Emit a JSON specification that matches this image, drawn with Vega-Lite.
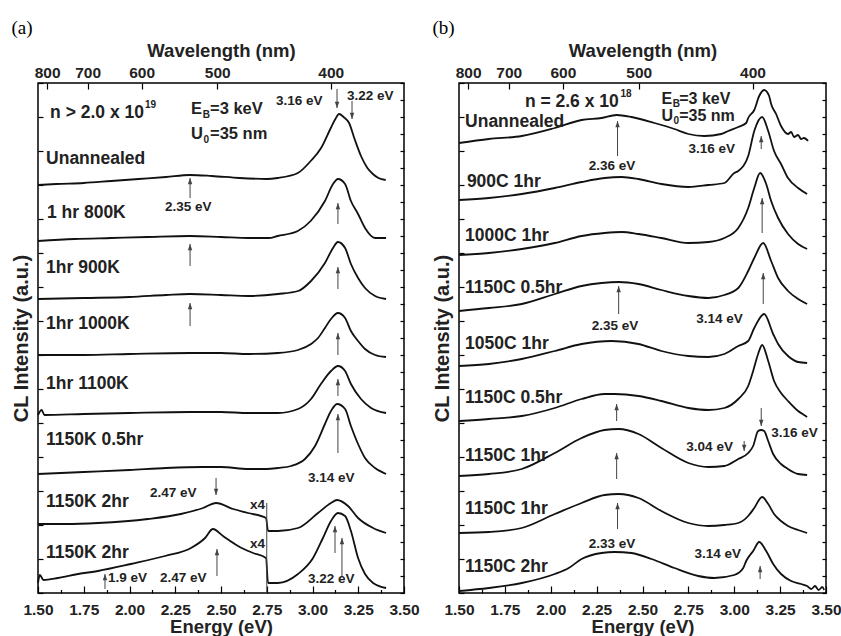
{
"$schema": "https://vega.github.io/schema/vega-lite/v6.json",
"padding": {"left": 10, "top": 18, "right": 0, "bottom": 0},
"spacing": 11,
"config": {
  "view": {"stroke": "#000", "strokeWidth": 1.5},
  "font": "Liberation Sans",
  "axis": {"domain": false, "grid": false, "tickColor": "#000", "tickWidth": 1.2, "labelFont": "Liberation Sans", "labelFontWeight": "bold", "labelFontSize": 15.5, "labelColor": "#222", "labelFlush": false, "titleFont": "Liberation Sans", "titleFontWeight": "bold", "titleFontSize": 18.5, "titleColor": "#222"},
  "title": {"font": "Liberation Serif", "fontWeight": "normal", "fontSize": 19, "anchor": "start", "color": "#000"}
},
"datasets": {
"curvesA": [
{"c":"a1","x":1.5,"y":408},{"c":"a1","x":1.6,"y":409},{"c":"a1","x":1.75,"y":410},{"c":"a1","x":1.9,"y":412},{"c":"a1","x":2.05,"y":414},{"c":"a1","x":2.2,"y":416},{"c":"a1","x":2.33,"y":418},{"c":"a1","x":2.45,"y":417},{"c":"a1","x":2.6,"y":415},{"c":"a1","x":2.75,"y":414},{"c":"a1","x":2.81,"y":415},{"c":"a1","x":2.92,"y":420},{"c":"a1","x":2.99,"y":432},{"c":"a1","x":3.047,"y":445},{"c":"a1","x":3.1,"y":465},{"c":"a1","x":3.125,"y":474},{"c":"a1","x":3.145,"y":479},{"c":"a1","x":3.17,"y":476},{"c":"a1","x":3.2,"y":470},{"c":"a1","x":3.23,"y":454},{"c":"a1","x":3.265,"y":437},{"c":"a1","x":3.3,"y":425},{"c":"a1","x":3.33,"y":419},{"c":"a1","x":3.36,"y":415},{"c":"a1","x":3.4,"y":413},
{"c":"a2","x":1.5,"y":352},{"c":"a2","x":1.7,"y":354},{"c":"a2","x":1.9,"y":355},{"c":"a2","x":2.1,"y":356},{"c":"a2","x":2.33,"y":357},{"c":"a2","x":2.5,"y":356},{"c":"a2","x":2.65,"y":355},{"c":"a2","x":2.76,"y":355},{"c":"a2","x":2.81,"y":357},{"c":"a2","x":2.92,"y":362},{"c":"a2","x":2.99,"y":372},{"c":"a2","x":3.068,"y":392},{"c":"a2","x":3.112,"y":409},{"c":"a2","x":3.139,"y":414},{"c":"a2","x":3.178,"y":409},{"c":"a2","x":3.21,"y":392},{"c":"a2","x":3.249,"y":379},{"c":"a2","x":3.287,"y":365},{"c":"a2","x":3.342,"y":355},{"c":"a2","x":3.402,"y":355},
{"c":"a3","x":1.5,"y":294},{"c":"a3","x":1.75,"y":295},{"c":"a3","x":2.0,"y":296},{"c":"a3","x":2.2,"y":298},{"c":"a3","x":2.33,"y":299},{"c":"a3","x":2.5,"y":298},{"c":"a3","x":2.65,"y":297},{"c":"a3","x":2.811,"y":299},{"c":"a3","x":2.921,"y":302},{"c":"a3","x":2.992,"y":312},{"c":"a3","x":3.068,"y":330},{"c":"a3","x":3.112,"y":345},{"c":"a3","x":3.139,"y":351},{"c":"a3","x":3.178,"y":345},{"c":"a3","x":3.21,"y":329},{"c":"a3","x":3.249,"y":315},{"c":"a3","x":3.287,"y":305},{"c":"a3","x":3.342,"y":297},{"c":"a3","x":3.402,"y":294},
{"c":"a4","x":1.5,"y":238},{"c":"a4","x":1.75,"y":238},{"c":"a4","x":2.0,"y":239},{"c":"a4","x":2.33,"y":240},{"c":"a4","x":2.5,"y":240},{"c":"a4","x":2.65,"y":239},{"c":"a4","x":2.811,"y":240},{"c":"a4","x":2.921,"y":243},{"c":"a4","x":2.992,"y":249},{"c":"a4","x":3.03,"y":255},{"c":"a4","x":3.068,"y":265},{"c":"a4","x":3.101,"y":274},{"c":"a4","x":3.139,"y":280},{"c":"a4","x":3.178,"y":275},{"c":"a4","x":3.21,"y":262},{"c":"a4","x":3.249,"y":252},{"c":"a4","x":3.287,"y":244},{"c":"a4","x":3.342,"y":238},{"c":"a4","x":3.402,"y":236},
{"c":"a5","x":1.5,"y":178},{"c":"a5","x":1.52,"y":183},{"c":"a5","x":1.535,"y":178},{"c":"a5","x":1.75,"y":179},{"c":"a5","x":2.0,"y":180},{"c":"a5","x":2.33,"y":181},{"c":"a5","x":2.5,"y":181},{"c":"a5","x":2.65,"y":180},{"c":"a5","x":2.811,"y":180},{"c":"a5","x":2.921,"y":184},{"c":"a5","x":2.992,"y":194},{"c":"a5","x":3.046,"y":209},{"c":"a5","x":3.101,"y":222},{"c":"a5","x":3.139,"y":227},{"c":"a5","x":3.178,"y":222},{"c":"a5","x":3.21,"y":209},{"c":"a5","x":3.265,"y":194},{"c":"a5","x":3.32,"y":185},{"c":"a5","x":3.402,"y":180},
{"c":"a6","x":1.5,"y":119},{"c":"a6","x":1.75,"y":121},{"c":"a6","x":2.0,"y":123},{"c":"a6","x":2.2,"y":125},{"c":"a6","x":2.4,"y":126},{"c":"a6","x":2.5,"y":126},{"c":"a6","x":2.65,"y":124},{"c":"a6","x":2.75,"y":124},{"c":"a6","x":2.811,"y":125},{"c":"a6","x":2.883,"y":127},{"c":"a6","x":2.959,"y":134},{"c":"a6","x":3.014,"y":147},{"c":"a6","x":3.068,"y":169},{"c":"a6","x":3.101,"y":182},{"c":"a6","x":3.134,"y":189},{"c":"a6","x":3.178,"y":184},{"c":"a6","x":3.21,"y":167},{"c":"a6","x":3.249,"y":149},{"c":"a6","x":3.287,"y":135},{"c":"a6","x":3.342,"y":125},{"c":"a6","x":3.402,"y":119},
{"c":"a7","x":1.5,"y":69},{"c":"a7","x":1.65,"y":69},{"c":"a7","x":1.828,"y":70},{"c":"a7","x":2.101,"y":74},{"c":"a7","x":2.281,"y":79},{"c":"a7","x":2.402,"y":85},{"c":"a7","x":2.473,"y":90},{"c":"a7","x":2.566,"y":84},{"c":"a7","x":2.648,"y":80},{"c":"a7","x":2.746,"y":75},{"c":"a7","x":2.757,"y":62},{"c":"a7","x":2.811,"y":62},{"c":"a7","x":2.921,"y":65},{"c":"a7","x":3.03,"y":80},{"c":"a7","x":3.101,"y":90},{"c":"a7","x":3.134,"y":93},{"c":"a7","x":3.194,"y":87},{"c":"a7","x":3.249,"y":75},{"c":"a7","x":3.331,"y":65},{"c":"a7","x":3.402,"y":60},
{"c":"a8","x":1.5,"y":10},{"c":"a8","x":1.51,"y":18},{"c":"a8","x":1.53,"y":13},{"c":"a8","x":1.609,"y":15},{"c":"a8","x":1.719,"y":19},{"c":"a8","x":1.828,"y":22},{"c":"a8","x":2.008,"y":29},{"c":"a8","x":2.194,"y":37},{"c":"a8","x":2.336,"y":45},{"c":"a8","x":2.413,"y":55},{"c":"a8","x":2.456,"y":64},{"c":"a8","x":2.511,"y":57},{"c":"a8","x":2.593,"y":47},{"c":"a8","x":2.675,"y":40},{"c":"a8","x":2.746,"y":35},{"c":"a8","x":2.757,"y":10},{"c":"a8","x":2.811,"y":10},{"c":"a8","x":2.921,"y":19},{"c":"a8","x":3.003,"y":35},{"c":"a8","x":3.057,"y":55},{"c":"a8","x":3.101,"y":72},{"c":"a8","x":3.139,"y":80},{"c":"a8","x":3.178,"y":77},{"c":"a8","x":3.21,"y":62},{"c":"a8","x":3.249,"y":35},{"c":"a8","x":3.287,"y":19},{"c":"a8","x":3.331,"y":10},{"c":"a8","x":3.402,"y":5}
],
"curvesB": [
{"c":"b1","x":1.5,"y":450},{"c":"b1","x":1.663,"y":454},{"c":"b1","x":1.842,"y":457},{"c":"b1","x":2.022,"y":465},{"c":"b1","x":2.168,"y":473},{"c":"b1","x":2.277,"y":475},{"c":"b1","x":2.359,"y":478},{"c":"b1","x":2.44,"y":476},{"c":"b1","x":2.565,"y":470},{"c":"b1","x":2.674,"y":464},{"c":"b1","x":2.75,"y":459},{"c":"b1","x":2.837,"y":457},{"c":"b1","x":2.929,"y":459},{"c":"b1","x":2.967,"y":462},{"c":"b1","x":3.022,"y":466},{"c":"b1","x":3.065,"y":470},{"c":"b1","x":3.076,"y":475},{"c":"b1","x":3.109,"y":483},{"c":"b1","x":3.136,"y":497},{"c":"b1","x":3.163,"y":503},{"c":"b1","x":3.19,"y":497},{"c":"b1","x":3.201,"y":489},{"c":"b1","x":3.228,"y":479},{"c":"b1","x":3.255,"y":467},{"c":"b1","x":3.293,"y":459},{"c":"b1","x":3.31,"y":461},{"c":"b1","x":3.326,"y":456},{"c":"b1","x":3.348,"y":458},{"c":"b1","x":3.364,"y":454},{"c":"b1","x":3.38,"y":455},{"c":"b1","x":3.402,"y":452},
{"c":"b2","x":1.5,"y":393},{"c":"b2","x":1.663,"y":395},{"c":"b2","x":1.842,"y":399},{"c":"b2","x":2.022,"y":405},{"c":"b2","x":2.168,"y":411},{"c":"b2","x":2.293,"y":415},{"c":"b2","x":2.386,"y":416},{"c":"b2","x":2.478,"y":414},{"c":"b2","x":2.603,"y":409},{"c":"b2","x":2.75,"y":406},{"c":"b2","x":2.859,"y":408},{"c":"b2","x":2.946,"y":410},{"c":"b2","x":3.0,"y":420},{"c":"b2","x":3.022,"y":422},{"c":"b2","x":3.076,"y":437},{"c":"b2","x":3.109,"y":462},{"c":"b2","x":3.152,"y":476},{"c":"b2","x":3.185,"y":462},{"c":"b2","x":3.217,"y":442},{"c":"b2","x":3.255,"y":429},{"c":"b2","x":3.293,"y":415},{"c":"b2","x":3.348,"y":405},{"c":"b2","x":3.397,"y":399},
{"c":"b3","x":1.5,"y":338},{"c":"b3","x":1.663,"y":340},{"c":"b3","x":1.842,"y":344},{"c":"b3","x":2.022,"y":350},{"c":"b3","x":2.168,"y":357},{"c":"b3","x":2.293,"y":360},{"c":"b3","x":2.386,"y":361},{"c":"b3","x":2.478,"y":359},{"c":"b3","x":2.603,"y":355},{"c":"b3","x":2.75,"y":350},{"c":"b3","x":2.859,"y":351},{"c":"b3","x":2.946,"y":355},{"c":"b3","x":3.022,"y":365},{"c":"b3","x":3.076,"y":385},{"c":"b3","x":3.109,"y":405},{"c":"b3","x":3.141,"y":420},{"c":"b3","x":3.174,"y":409},{"c":"b3","x":3.201,"y":392},{"c":"b3","x":3.239,"y":375},{"c":"b3","x":3.293,"y":359},{"c":"b3","x":3.348,"y":349},{"c":"b3","x":3.397,"y":344},
{"c":"b4","x":1.5,"y":282},{"c":"b4","x":1.663,"y":285},{"c":"b4","x":1.842,"y":289},{"c":"b4","x":2.022,"y":299},{"c":"b4","x":2.168,"y":307},{"c":"b4","x":2.277,"y":310},{"c":"b4","x":2.37,"y":311},{"c":"b4","x":2.478,"y":309},{"c":"b4","x":2.603,"y":303},{"c":"b4","x":2.75,"y":297},{"c":"b4","x":2.859,"y":295},{"c":"b4","x":2.946,"y":298},{"c":"b4","x":3.022,"y":305},{"c":"b4","x":3.076,"y":322},{"c":"b4","x":3.109,"y":335},{"c":"b4","x":3.158,"y":350},{"c":"b4","x":3.201,"y":332},{"c":"b4","x":3.239,"y":315},{"c":"b4","x":3.293,"y":302},{"c":"b4","x":3.348,"y":294},{"c":"b4","x":3.397,"y":289},
{"c":"b5","x":1.5,"y":227},{"c":"b5","x":1.663,"y":229},{"c":"b5","x":1.842,"y":234},{"c":"b5","x":2.022,"y":242},{"c":"b5","x":2.168,"y":249},{"c":"b5","x":2.332,"y":252},{"c":"b5","x":2.478,"y":249},{"c":"b5","x":2.603,"y":242},{"c":"b5","x":2.75,"y":237},{"c":"b5","x":2.859,"y":236},{"c":"b5","x":2.946,"y":239},{"c":"b5","x":3.022,"y":247},{"c":"b5","x":3.076,"y":252},{"c":"b5","x":3.109,"y":265},{"c":"b5","x":3.163,"y":279},{"c":"b5","x":3.212,"y":259},{"c":"b5","x":3.239,"y":249},{"c":"b5","x":3.293,"y":237},{"c":"b5","x":3.348,"y":231},{"c":"b5","x":3.397,"y":230},
{"c":"b6","x":1.5,"y":172},{"c":"b6","x":1.663,"y":174},{"c":"b6","x":1.842,"y":177},{"c":"b6","x":2.022,"y":185},{"c":"b6","x":2.168,"y":194},{"c":"b6","x":2.293,"y":199},{"c":"b6","x":2.348,"y":199},{"c":"b6","x":2.478,"y":197},{"c":"b6","x":2.603,"y":192},{"c":"b6","x":2.75,"y":185},{"c":"b6","x":2.859,"y":183},{"c":"b6","x":2.946,"y":185},{"c":"b6","x":3.022,"y":194},{"c":"b6","x":3.076,"y":207},{"c":"b6","x":3.103,"y":222},{"c":"b6","x":3.13,"y":239},{"c":"b6","x":3.152,"y":248},{"c":"b6","x":3.185,"y":232},{"c":"b6","x":3.217,"y":212},{"c":"b6","x":3.255,"y":200},{"c":"b6","x":3.293,"y":192},{"c":"b6","x":3.348,"y":182},{"c":"b6","x":3.38,"y":178},{"c":"b6","x":3.397,"y":176},
{"c":"b7","x":1.5,"y":117},{"c":"b7","x":1.663,"y":119},{"c":"b7","x":1.842,"y":124},{"c":"b7","x":2.022,"y":140},{"c":"b7","x":2.168,"y":155},{"c":"b7","x":2.293,"y":163},{"c":"b7","x":2.37,"y":164},{"c":"b7","x":2.478,"y":159},{"c":"b7","x":2.603,"y":145},{"c":"b7","x":2.75,"y":130},{"c":"b7","x":2.859,"y":126},{"c":"b7","x":2.946,"y":127},{"c":"b7","x":3.022,"y":134},{"c":"b7","x":3.076,"y":140},{"c":"b7","x":3.103,"y":147},{"c":"b7","x":3.13,"y":162},{"c":"b7","x":3.147,"y":163},{"c":"b7","x":3.163,"y":162},{"c":"b7","x":3.185,"y":152},{"c":"b7","x":3.212,"y":139},{"c":"b7","x":3.255,"y":129},{"c":"b7","x":3.293,"y":124},{"c":"b7","x":3.348,"y":119},{"c":"b7","x":3.397,"y":118},
{"c":"b8","x":1.5,"y":60},{"c":"b8","x":1.663,"y":61},{"c":"b8","x":1.842,"y":65},{"c":"b8","x":2.022,"y":79},{"c":"b8","x":2.168,"y":90},{"c":"b8","x":2.293,"y":98},{"c":"b8","x":2.37,"y":99},{"c":"b8","x":2.478,"y":95},{"c":"b8","x":2.603,"y":82},{"c":"b8","x":2.75,"y":70},{"c":"b8","x":2.859,"y":67},{"c":"b8","x":2.946,"y":68},{"c":"b8","x":3.022,"y":70},{"c":"b8","x":3.076,"y":77},{"c":"b8","x":3.109,"y":85},{"c":"b8","x":3.152,"y":96},{"c":"b8","x":3.185,"y":89},{"c":"b8","x":3.217,"y":79},{"c":"b8","x":3.255,"y":72},{"c":"b8","x":3.293,"y":67},{"c":"b8","x":3.348,"y":63},{"c":"b8","x":3.397,"y":60},
{"c":"b9","x":1.5,"y":2},{"c":"b9","x":1.663,"y":5},{"c":"b9","x":1.842,"y":10},{"c":"b9","x":2.022,"y":19},{"c":"b9","x":2.098,"y":25},{"c":"b9","x":2.168,"y":34},{"c":"b9","x":2.277,"y":40},{"c":"b9","x":2.348,"y":41},{"c":"b9","x":2.44,"y":40},{"c":"b9","x":2.549,"y":34},{"c":"b9","x":2.674,"y":25},{"c":"b9","x":2.804,"y":17},{"c":"b9","x":2.891,"y":15},{"c":"b9","x":3.0,"y":18},{"c":"b9","x":3.049,"y":25},{"c":"b9","x":3.065,"y":32},{"c":"b9","x":3.103,"y":42},{"c":"b9","x":3.136,"y":51},{"c":"b9","x":3.174,"y":42},{"c":"b9","x":3.212,"y":29},{"c":"b9","x":3.255,"y":19},{"c":"b9","x":3.31,"y":12},{"c":"b9","x":3.364,"y":9},{"c":"b9","x":3.397,"y":7},{"c":"b9","x":3.42,"y":4},{"c":"b9","x":3.44,"y":7},{"c":"b9","x":3.46,"y":3},{"c":"b9","x":3.48,"y":6},{"c":"b9","x":3.49,"y":3}
],
"arrowsA": [
{"x":3.134,"y":504,"y2":485,"dir":"down"},{"x":3.216,"y":492,"y2":474,"dir":"down"},{"x":2.331,"y":395,"y2":415,"dir":"up"},{"x":3.139,"y":369,"y2":390,"dir":"up"},{"x":2.331,"y":327,"y2":349,"dir":"up"},{"x":3.139,"y":304,"y2":326,"dir":"up"},{"x":2.331,"y":267,"y2":290,"dir":"up"},{"x":3.139,"y":238,"y2":260,"dir":"up"},{"x":3.139,"y":197,"y2":214,"dir":"up"},{"x":3.139,"y":140,"y2":179,"dir":"up"},{"x":2.473,"y":115,"y2":98,"dir":"down"},{"x":1.866,"y":4,"y2":19,"dir":"up"},{"x":2.478,"y":17,"y2":44,"dir":"up"},{"x":3.123,"y":40,"y2":67,"dir":"up"},{"x":3.161,"y":17,"y2":55,"dir":"up"},{"x":2.75,"y":0,"y2":90,"dir":"none"}
],
"arrowsB": [
{"x":2.364,"y":437,"y2":472,"dir":"up"},{"x":3.147,"y":444,"y2":457,"dir":"up"},{"x":3.152,"y":360,"y2":395,"dir":"up"},{"x":3.158,"y":289,"y2":320,"dir":"up"},{"x":2.37,"y":279,"y2":307,"dir":"up"},{"x":2.359,"y":172,"y2":189,"dir":"up"},{"x":2.359,"y":114,"y2":140,"dir":"up"},{"x":3.054,"y":152,"y2":142,"dir":"down"},{"x":3.147,"y":185,"y2":167,"dir":"down"},{"x":2.364,"y":64,"y2":90,"dir":"up"},{"x":3.141,"y":14,"y2":27,"dir":"up"}
],
"textsA": [
{"x":1.544,"y":434,"t":"Unannealed","role":"label"},{"x":1.549,"y":380,"t":"1 hr 800K","role":"label"},{"x":1.544,"y":325,"t":"1hr 900K","role":"label"},{"x":1.544,"y":269,"t":"1hr 1000K","role":"label"},{"x":1.544,"y":209,"t":"1hr 1100K","role":"label"},{"x":1.544,"y":153,"t":"1150K 0.5hr","role":"label"},{"x":1.544,"y":91,"t":"1150K 2hr","role":"label"},{"x":1.544,"y":40,"t":"1150K 2hr","role":"label"},
{"x":1.566,"y":480,"t":"n > 2.0 x 10","role":"label"},{"x":2.336,"y":484,"t":"E","role":"param"},{"x":2.44,"y":484,"t":"=3 keV","role":"param"},{"x":2.336,"y":459,"t":"U","role":"param"},{"x":2.44,"y":459,"t":"=35 nm","role":"param"},
{"x":2.085,"y":488,"t":"19","role":"script"},{"x":2.4,"y":478,"t":"B","role":"script"},{"x":2.405,"y":453,"t":"0","role":"script"},
{"x":2.801,"y":492,"t":"3.16 eV","role":"note"},{"x":3.189,"y":497,"t":"3.22 eV","role":"note"},{"x":2.194,"y":386,"t":"2.35 eV","role":"note"},{"x":2.975,"y":115,"t":"3.14 eV","role":"note"},{"x":2.112,"y":100,"t":"2.47 eV","role":"note"},{"x":2.658,"y":88,"t":"x4","role":"note"},{"x":2.658,"y":49,"t":"x4","role":"note"},{"x":1.883,"y":15,"t":"1.9 eV","role":"note"},{"x":2.167,"y":15,"t":"2.47 eV","role":"note"},{"x":2.975,"y":14,"t":"3.22 eV","role":"note"}
],
"textsB": [
{"x":1.533,"y":471,"t":"Unannealed","role":"label"},{"x":1.543,"y":411,"t":"900C 1hr","role":"label"},{"x":1.533,"y":357,"t":"1000C 1hr","role":"label"},{"x":1.533,"y":305,"t":"1150C 0.5hr","role":"label"},{"x":1.533,"y":249,"t":"1050C 1hr","role":"label"},{"x":1.533,"y":195,"t":"1150C 0.5hr","role":"label"},{"x":1.533,"y":137,"t":"1150C 1hr","role":"label"},{"x":1.533,"y":84,"t":"1150C 1hr","role":"label"},{"x":1.533,"y":26,"t":"1150C 2hr","role":"label"},
{"x":1.859,"y":491,"t":"n = 2.6 x 10","role":"label"},{"x":2.603,"y":494,"t":"E","role":"param"},{"x":2.7,"y":494,"t":"=3 keV","role":"param"},{"x":2.603,"y":477,"t":"U","role":"param"},{"x":2.7,"y":477,"t":"=35 nm","role":"param"},
{"x":2.38,"y":499,"t":"18","role":"script"},{"x":2.665,"y":489,"t":"B","role":"script"},{"x":2.669,"y":472,"t":"0","role":"script"},
{"x":2.207,"y":427,"t":"2.36 eV","role":"note"},{"x":2.75,"y":444,"t":"3.16 eV","role":"note"},{"x":2.223,"y":267,"t":"2.35 eV","role":"note"},{"x":2.793,"y":274,"t":"3.14 eV","role":"note"},{"x":2.739,"y":146,"t":"3.04 eV","role":"note"},{"x":3.201,"y":160,"t":"3.16 eV","role":"note"},{"x":2.207,"y":49,"t":"2.33 eV","role":"note"},{"x":2.783,"y":39,"t":"3.14 eV","role":"note"}
]
},
"hconcat": [
{
 "title": {"text": "(a)", "offset": 3},
 "width": 366, "height": 510,
 "resolve": {"axis": {"x": "independent", "y": "independent"}},
 "layer": [
  {"data": {"name": "curvesA"}, "mark": {"type": "line", "color": "#111", "strokeWidth": 1.8, "interpolate": "monotone"},
   "encoding": {
    "x": {"field": "x", "type": "quantitative", "scale": {"domain": [1.5, 3.5], "nice": false, "zero": false}, "axis": {"orient": "bottom", "values": [1.5,1.75,2,2.25,2.5,2.75,3,3.25,3.5], "format": ".2f", "tickSize": -7, "labelPadding": 16, "title": "Energy (eV)", "titlePadding": 0}},
    "y": {"field": "y", "type": "quantitative", "scale": {"domain": [0, 510], "nice": false, "zero": false}, "axis": {"orient": "left", "values": [0,34,68,102,136,170,204,238,272,306,340,374,408,442,476,510], "tickSize": -5, "labels": false, "title": "CL Intensity (a.u.)", "titleFontSize": 20, "titlePadding": 6}},
    "detail": {"field": "c"}
   }},
  {"data": {"name": "arrowsA"}, "mark": {"type": "rule", "color": "#444", "strokeWidth": 1},
   "encoding": {
    "x": {"field": "x", "type": "quantitative", "scale": {"domain": [1.5, 3.5], "nice": false, "zero": false}, "axis": {"orient": "bottom", "values": [1.625,1.875,2.125,2.375,2.625,2.875,3.125,3.375], "tickSize": -3.5, "labels": false, "title": null}},
    "y": {"field": "y", "type": "quantitative", "scale": {"domain": [0, 510], "nice": false, "zero": false}, "axis": null},
    "y2": {"field": "y2"}
   }},
  {"data": {"name": "arrowsA"}, "transform": [{"filter": "datum.dir !== 'none'"}], "mark": {"type": "point", "filled": true, "color": "#444", "opacity": 1, "size": 40, "strokeWidth": 0},
   "encoding": {
    "x": {"field": "x", "type": "quantitative", "scale": {"domain": [1.5, 3.5], "nice": false, "zero": false}, "axis": null},
    "y": {"field": "y2", "type": "quantitative", "scale": {"domain": [0, 510], "nice": false, "zero": false}, "axis": null},
    "shape": {"field": "dir", "type": "nominal", "scale": {"domain": ["up", "down"], "range": ["M0,0L0.7,2L-0.7,2Z", "M0,0L0.7,-2L-0.7,-2Z"]}, "legend": null}
   }},
  {"data": {"name": "textsA"}, "transform": [{"filter": "datum.role === 'label'"}], "mark": {"type": "text", "align": "left", "baseline": "middle", "fontSize": 17.5, "fontWeight": "bold", "color": "#222", "font": "Liberation Sans"},
   "encoding": {
    "x": {"field": "x", "type": "quantitative", "scale": {"domain": [1.5, 3.5], "nice": false, "zero": false}, "axis": {"orient": "top", "values": [1.5498, 1.7712, 2.0664, 2.4797, 3.0996], "labelExpr": "round(1239.84 / datum.value)", "tickSize": -6, "labelPadding": 9, "title": "Wavelength (nm)", "titlePadding": 5}},
    "y": {"field": "y", "type": "quantitative", "scale": {"domain": [0, 510], "nice": false, "zero": false}, "axis": {"orient": "right", "values": [0,17,34,51,68,85,102,119,136,153,170,187,204,221,238,255,272,289,306,323,340,357,374,391,408,425,442,459,476,493,510], "tickSize": -4, "labels": false, "title": null}},
    "text": {"field": "t"}
   }},
  {"data": {"name": "textsA"}, "transform": [{"filter": "datum.role === 'param'"}], "mark": {"type": "text", "align": "left", "baseline": "middle", "fontSize": 16.5, "fontWeight": "bold", "color": "#222", "font": "Liberation Sans"},
   "encoding": {
    "x": {"field": "x", "type": "quantitative", "scale": {"domain": [1.5, 3.5], "nice": false, "zero": false}, "axis": null},
    "y": {"field": "y", "type": "quantitative", "scale": {"domain": [0, 510], "nice": false, "zero": false}, "axis": null},
    "text": {"field": "t"}
   }},
  {"data": {"name": "textsA"}, "transform": [{"filter": "datum.role === 'script'"}], "mark": {"type": "text", "align": "left", "baseline": "middle", "fontSize": 10, "fontWeight": "bold", "color": "#222", "font": "Liberation Sans"},
   "encoding": {
    "x": {"field": "x", "type": "quantitative", "scale": {"domain": [1.5, 3.5], "nice": false, "zero": false}, "axis": null},
    "y": {"field": "y", "type": "quantitative", "scale": {"domain": [0, 510], "nice": false, "zero": false}, "axis": null},
    "text": {"field": "t"}
   }},
  {"data": {"name": "textsA"}, "transform": [{"filter": "datum.role === 'note'"}], "mark": {"type": "text", "align": "left", "baseline": "middle", "fontSize": 13.5, "fontWeight": "bold", "color": "#222", "font": "Liberation Sans"},
   "encoding": {
    "x": {"field": "x", "type": "quantitative", "scale": {"domain": [1.5, 3.5], "nice": false, "zero": false}, "axis": null},
    "y": {"field": "y", "type": "quantitative", "scale": {"domain": [0, 510], "nice": false, "zero": false}, "axis": null},
    "text": {"field": "t"}
   }}
 ]
},
{
 "title": {"text": "(b)", "offset": 3},
 "width": 367, "height": 510,
 "resolve": {"axis": {"x": "independent", "y": "independent"}},
 "layer": [
  {"data": {"name": "curvesB"}, "mark": {"type": "line", "color": "#111", "strokeWidth": 1.8, "interpolate": "monotone"},
   "encoding": {
    "x": {"field": "x", "type": "quantitative", "scale": {"domain": [1.5, 3.5], "nice": false, "zero": false}, "axis": {"orient": "bottom", "values": [1.5,1.75,2,2.25,2.5,2.75,3,3.25,3.5], "format": ".2f", "tickSize": -7, "labelPadding": 16, "title": "Energy (eV)", "titlePadding": 0}},
    "y": {"field": "y", "type": "quantitative", "scale": {"domain": [0, 510], "nice": false, "zero": false}, "axis": {"orient": "left", "values": [0,34,68,102,136,170,204,238,272,306,340,374,408,442,476,510], "tickSize": -5, "labels": false, "title": "CL Intensity (a.u.)", "titleFontSize": 20, "titlePadding": 6}},
    "detail": {"field": "c"}
   }},
  {"data": {"name": "arrowsB"}, "mark": {"type": "rule", "color": "#444", "strokeWidth": 1},
   "encoding": {
    "x": {"field": "x", "type": "quantitative", "scale": {"domain": [1.5, 3.5], "nice": false, "zero": false}, "axis": {"orient": "bottom", "values": [1.625,1.875,2.125,2.375,2.625,2.875,3.125,3.375], "tickSize": -3.5, "labels": false, "title": null}},
    "y": {"field": "y", "type": "quantitative", "scale": {"domain": [0, 510], "nice": false, "zero": false}, "axis": null},
    "y2": {"field": "y2"}
   }},
  {"data": {"name": "arrowsB"}, "transform": [{"filter": "datum.dir !== 'none'"}], "mark": {"type": "point", "filled": true, "color": "#444", "opacity": 1, "size": 40, "strokeWidth": 0},
   "encoding": {
    "x": {"field": "x", "type": "quantitative", "scale": {"domain": [1.5, 3.5], "nice": false, "zero": false}, "axis": null},
    "y": {"field": "y2", "type": "quantitative", "scale": {"domain": [0, 510], "nice": false, "zero": false}, "axis": null},
    "shape": {"field": "dir", "type": "nominal", "scale": {"domain": ["up", "down"], "range": ["M0,0L0.7,2L-0.7,2Z", "M0,0L0.7,-2L-0.7,-2Z"]}, "legend": null}
   }},
  {"data": {"name": "textsB"}, "transform": [{"filter": "datum.role === 'label'"}], "mark": {"type": "text", "align": "left", "baseline": "middle", "fontSize": 17.5, "fontWeight": "bold", "color": "#222", "font": "Liberation Sans"},
   "encoding": {
    "x": {"field": "x", "type": "quantitative", "scale": {"domain": [1.5, 3.5], "nice": false, "zero": false}, "axis": {"orient": "top", "values": [1.5498, 1.7712, 2.0664, 2.4797, 3.0996], "labelExpr": "round(1239.84 / datum.value)", "tickSize": -6, "labelPadding": 9, "title": "Wavelength (nm)", "titlePadding": 5}},
    "y": {"field": "y", "type": "quantitative", "scale": {"domain": [0, 510], "nice": false, "zero": false}, "axis": {"orient": "right", "values": [0,17,34,51,68,85,102,119,136,153,170,187,204,221,238,255,272,289,306,323,340,357,374,391,408,425,442,459,476,493,510], "tickSize": -4, "labels": false, "title": null}},
    "text": {"field": "t"}
   }},
  {"data": {"name": "textsB"}, "transform": [{"filter": "datum.role === 'param'"}], "mark": {"type": "text", "align": "left", "baseline": "middle", "fontSize": 16, "fontWeight": "bold", "color": "#222", "font": "Liberation Sans"},
   "encoding": {
    "x": {"field": "x", "type": "quantitative", "scale": {"domain": [1.5, 3.5], "nice": false, "zero": false}, "axis": null},
    "y": {"field": "y", "type": "quantitative", "scale": {"domain": [0, 510], "nice": false, "zero": false}, "axis": null},
    "text": {"field": "t"}
   }},
  {"data": {"name": "textsB"}, "transform": [{"filter": "datum.role === 'script'"}], "mark": {"type": "text", "align": "left", "baseline": "middle", "fontSize": 10, "fontWeight": "bold", "color": "#222", "font": "Liberation Sans"},
   "encoding": {
    "x": {"field": "x", "type": "quantitative", "scale": {"domain": [1.5, 3.5], "nice": false, "zero": false}, "axis": null},
    "y": {"field": "y", "type": "quantitative", "scale": {"domain": [0, 510], "nice": false, "zero": false}, "axis": null},
    "text": {"field": "t"}
   }},
  {"data": {"name": "textsB"}, "transform": [{"filter": "datum.role === 'note'"}], "mark": {"type": "text", "align": "left", "baseline": "middle", "fontSize": 13.5, "fontWeight": "bold", "color": "#222", "font": "Liberation Sans"},
   "encoding": {
    "x": {"field": "x", "type": "quantitative", "scale": {"domain": [1.5, 3.5], "nice": false, "zero": false}, "axis": null},
    "y": {"field": "y", "type": "quantitative", "scale": {"domain": [0, 510], "nice": false, "zero": false}, "axis": null},
    "text": {"field": "t"}
   }}
 ]
}
]
}
